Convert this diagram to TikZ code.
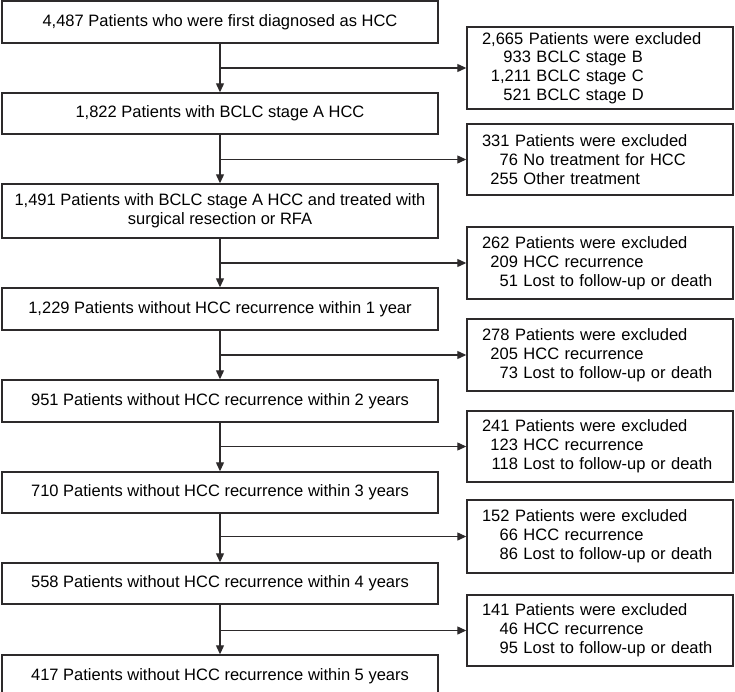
\documentclass[tikz,border=0pt]{standalone}
\usepackage{fontspec}
\setmainfont{Liberation Sans}
\usetikzlibrary{arrows.meta}
\definecolor{linegray}{RGB}{45,42,43}
\newcommand{\exitem}[3][36pt]{\makebox[#1][r]{#2}\ #3}
\begin{document}
\begin{tikzpicture}[x=1pt,y=-1pt,font=\fontsize{16.5}{18.8}\selectfont]

      \tikzset{mainbox/.style={draw=linegray, line width=1.4pt, minimum width=436pt, inner sep=0pt, align=center},
               exclbox/.style={draw=linegray, line width=1.4pt, text width=236pt, inner xsep=15pt, inner ysep=0pt, align=left},
               flow/.style={draw=linegray, line width=1.2pt, -{Triangle[length=9pt,width=8pt]}}}
      \path[use as bounding box, clip] (0,0) rectangle (735,692);
%% Main boxes
      	\node[mainbox, minimum height=42pt] (m1) at (220,22) {4,487 Patients who were first diagnosed as HCC};
      	\node[mainbox, minimum height=41pt] (m2) at (220,113.5) {1,822 Patients with BCLC stage A HCC};
      	\node[mainbox, minimum height=54pt] (m3) at (220,211) {1,491 Patients with BCLC stage A HCC and treated with\\ surgical resection or RFA};
      	\node[mainbox, minimum height=42pt] (m4) at (220,309) {1,229 Patients without HCC recurrence within 1 year};
      	\node[mainbox, minimum height=42pt] (m5) at (220,401) {951 Patients without HCC recurrence within 2 years};
      	\node[mainbox, minimum height=41pt] (m6) at (220,492.5) {710 Patients without HCC recurrence within 3 years};
      	\node[mainbox, minimum height=41pt] (m7) at (220,583.5) {558 Patients without HCC recurrence within 4 years};
      	\node[mainbox, minimum height=42pt] (m8) at (220,676) {417 Patients without HCC recurrence within 5 years};
%% Excluded boxes
      	\node[exclbox, minimum height=82pt] (r1) at (600,68) {2,665 Patients were excluded\\ \exitem[49pt]{933}{BCLC stage B}\\ \exitem[49pt]{1,211}{BCLC stage C}\\ \exitem[49pt]{521}{BCLC stage D}};
      	\node[exclbox, minimum height=71pt] (r2) at (600,159.5) {331 Patients were excluded\\ \exitem{76}{No treatment for HCC}\\ \exitem{255}{Other treatment}};
      	\node[exclbox, minimum height=72pt] (r3) at (600,263) {262 Patients were excluded\\ \exitem{209}{HCC recurrence}\\ \exitem{51}{Lost to follow-up or death}};
      	\node[exclbox, minimum height=72pt] (r4) at (600,355) {278 Patients were excluded\\ \exitem{205}{HCC recurrence}\\ \exitem{73}{Lost to follow-up or death}};
      	\node[exclbox, minimum height=71pt] (r5) at (600,446.5) {241 Patients were excluded\\ \exitem{123}{HCC recurrence}\\ \exitem{118}{Lost to follow-up or death}};
      	\node[exclbox, minimum height=73pt] (r6) at (600,536.5) {152 Patients were excluded\\ \exitem{66}{HCC recurrence}\\ \exitem{86}{Lost to follow-up or death}};
      	\node[exclbox, minimum height=71pt] (r7) at (600,630.5) {141 Patients were excluded\\ \exitem{46}{HCC recurrence}\\ \exitem{95}{Lost to follow-up or death}};
%% Branch points
      	\coordinate (b1) at (220,68);
      	\coordinate (b2) at (220,159.5);
      	\coordinate (b3) at (220,263);
      	\coordinate (b4) at (220,355);
      	\coordinate (b5) at (220,446.5);
      	\coordinate (b6) at (220,536.5);
      	\coordinate (b7) at (220,630.5);
%Edges
		\path (m1) edge[flow] (m2);
		\path (m2) edge[flow] (m3);
		\path (m3) edge[flow] (m4);
		\path (m4) edge[flow] (m5);
		\path (m5) edge[flow] (m6);
		\path (m6) edge[flow] (m7);
		\path (m7) edge[flow] (m8);
		\path (b1) edge[flow] (r1);
		\path (b2) edge[flow] (r2);
		\path (b3) edge[flow] (r3);
		\path (b4) edge[flow] (r4);
		\path (b5) edge[flow] (r5);
		\path (b6) edge[flow] (r6);
		\path (b7) edge[flow] (r7);

	\end{tikzpicture}
\end{document}
